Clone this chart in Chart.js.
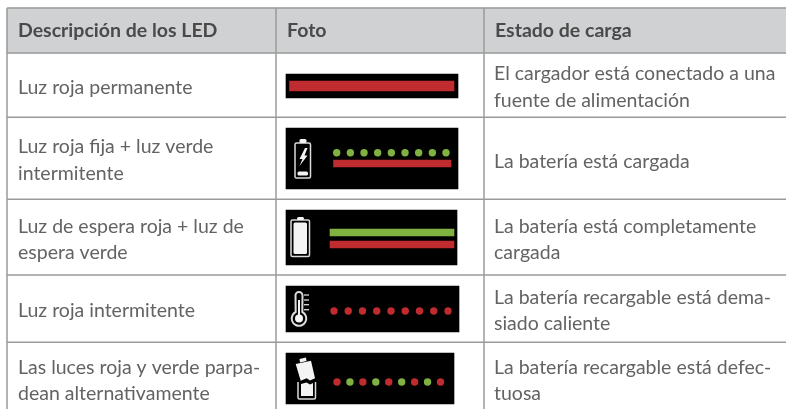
<!DOCTYPE html>
<html lang="es">
<head>
<meta charset="utf-8">
<title>Descripción de los LED</title>
<style>
  html, body { margin: 0; padding: 0; background: #fff; }
  canvas { display: block; }
</style>
</head>
<body>
<canvas id="tabla" width="786" height="409"></canvas>
<script src="https://cdn.jsdelivr.net/npm/chart.js@4/dist/chart.umd.min.js"></script>
<script>
// Textos de la tabla
const encabezados = ['Descripción de los LED', 'Foto', 'Estado de carga'];
const descripcion = [
  ['Luz roja permanente'],
  ['Luz roja fija + luz verde', 'intermitente'],
  ['Luz de espera roja + luz de', 'espera verde'],
  ['Luz roja intermitente'],
  ['Las luces roja y verde parpa-', 'dean alternativamente']
];
const estado = [
  ['El cargador está conectado a una', 'fuente de alimentación'],
  ['La batería está cargada'],
  ['La batería está completamente', 'cargada'],
  ['La batería recargable está dema-', 'siado caliente'],
  ['La batería recargable está defec-', 'tuosa']
];
// Estado de los LED por fila: r/g = punto, R/G = barra continua
const ledsPuntos = ['', 'ggggggggg', '', 'rrrrrrrrr', 'rgrgrgrgr'];
const ledsBarras = ['R', 'R', 'GR', '', ''];
const iconos = [null, 'rayo', 'llena', 'termo', 'rota'];

// Geometria (la escala va en unidades de imagen)
const colX = [7, 276, 484, 786];
const filaY = [8, 53, 117.3, 199.3, 275, 342.3, 409];
const paneles = [
  [286, 458, 74, 98], [286, 458, 128, 189], [286, 457, 210, 265],
  [286, 459, 286, 332], [286, 454, 353, 404]
];
const tiraPuntos = [null, [336.7, 446, 152.7], null, [334, 448, 311], [337, 440.5, 382]];
const tiraBarras = [
  [[289.5, 454, 86, 10]],
  [[333.5, 451, 163.5, 7]],
  [[330, 454, 232.5, 7], [330, 454, 244.5, 7]],
  [], []
];
const lineasDesc = [[88], [147, 174], [227, 253], [311], [368, 394]];
const lineasEstado = [[74, 101], [162], [227, 253], [298, 324], [368, 394]];

const ROJO = '#bf2b2e', VERDE = '#7fb241', NEGRO = '#000', BORDE = '#9a9a9a', TEXTO = '#636363';
const colorLed = c => (c.toLowerCase() === 'r' ? ROJO : VERDE);
const barra = (x0, x1, y, alto, color) => ({
  type: 'bar', data: [{ x: [x0, x1], y: y }], barThickness: alto, backgroundColor: color,
  grouped: false, borderWidth: 0
});
const linea = (a, b) => ({
  type: 'scatter', showLine: true, data: [a, b], borderColor: BORDE, borderWidth: 1.5, pointRadius: 0
});

const datasets = [];
// el primer dataset se pinta encima
ledsPuntos.forEach((p, f) => {
  if (!p) return;
  const [x0, x1, y] = tiraPuntos[f];
  const paso = (x1 - x0) / (p.length - 1);
  datasets.push({
    type: 'scatter',
    data: p.split('').map((c, i) => ({ x: x0 + paso * i, y: y })),
    pointRadius: 3.7, pointBorderWidth: 0,
    pointBackgroundColor: p.split('').map(colorLed)
  });
});
ledsBarras.forEach((b, f) => {
  b.split('').forEach((c, i) => {
    const [x0, x1, y, alto] = tiraBarras[f][i];
    datasets.push(barra(x0, x1, y, alto, colorLed(c)));
  });
});
paneles.forEach(p => datasets.push(barra(p[0], p[1], (p[2] + p[3]) / 2, p[3] - p[2], NEGRO)));
filaY.slice(0, -1).forEach(y => datasets.push(linea({ x: colX[0], y: y }, { x: colX[3], y: y })));
colX.slice(0, -1).forEach(x => datasets.push(linea({ x: x, y: filaY[0] }, { x: x, y: filaY[6] })));
datasets.push(barra(colX[0], colX[3], (filaY[0] + filaY[1]) / 2, filaY[1] - filaY[0], '#d0d1d3'));

// Iconos blancos y textos, posicionados con las escalas
const tablaPlugin = {
  id: 'tablaPlugin',
  afterDatasetsDraw(chart) {
    const ctx = chart.ctx, sx = chart.scales.x, sy = chart.scales.y;
    const px = x => sx.getPixelForValue(x), py = y => sy.getPixelForValue(y);
    const caja = (x0, y0, x1, y1, relleno) => {
      ctx.beginPath();
      ctx.roundRect(px(x0), py(y0), px(x1) - px(x0), py(y1) - py(y0), 1.5);
      if (relleno) ctx.fill(); else ctx.stroke();
    };
    const poligono = puntos => {
      ctx.beginPath();
      puntos.forEach((p, i) => {
        if (i) ctx.lineTo(px(p[0]), py(p[1])); else ctx.moveTo(px(p[0]), py(p[1]));
      });
      ctx.closePath();
      ctx.fill();
    };
    ctx.save();
    ctx.strokeStyle = '#dcdcdc';
    ctx.fillStyle = '#f4f4f4';
    ctx.lineWidth = 1.5;
    iconos.forEach(tipo => {
      if (tipo === 'rayo') {
        caja(295, 143, 310.5, 178);
        caja(299.5, 139, 306.5, 143, true);
        caja(297.5, 171.5, 308, 175.5, true);
        poligono([[305, 148], [299.5, 159], [302.5, 159], [299.5, 166], [307.5, 155.5], [304.5, 155.5], [307.5, 148]]);
      } else if (tipo === 'llena') {
        caja(291, 220, 309.5, 256.5);
        caja(297, 217, 304, 220, true);
        caja(293.5, 222.5, 307, 254, true);
      } else if (tipo === 'termo') {
        ctx.beginPath();
        ctx.lineWidth = 2;
        ctx.arc(px(299), py(318.5), 7.3, -1.1, Math.PI + 1.1);
        ctx.lineTo(px(295.5), py(295.5));
        ctx.arc(px(299), py(295.5), 3.5, Math.PI, 0);
        ctx.closePath();
        ctx.stroke();
        ctx.beginPath();
        ctx.arc(px(299), py(318.5), 4, 0, Math.PI * 2);
        ctx.fill();
        ctx.fillRect(px(298), py(300), 2, 16);
        ctx.lineWidth = 1.3;
        [295, 300, 304.7, 309.7].forEach(y => {
          ctx.beginPath();
          ctx.moveTo(px(304), py(y));
          ctx.lineTo(px(309), py(y));
          ctx.stroke();
        });
      } else if (tipo === 'rota') {
        ctx.lineWidth = 1.5;
        caja(298, 380, 315.5, 399);
        ctx.fillStyle = '#000';
        ctx.fillRect(px(296), py(376), 21, 6);
        ctx.fillStyle = '#f4f4f4';
        poligono([[301, 384], [306.5, 382.5], [310, 384.5], [313, 383], [313, 396], [301, 396]]);
        poligono([[295.7, 364], [311, 360.7], [315, 378.3], [310, 380.5], [306.7, 378.3], [300.7, 380.7]]);
        poligono([[299.5, 359], [306, 357.5], [306.5, 361], [300, 362.5]]);
      }
    });

    ctx.textBaseline = 'middle';
    ctx.textAlign = 'left';
    ctx.font = 'bold 19.5px Lato';
    ctx.fillStyle = '#4a4a4a';
    encabezados.forEach((t, i) => ctx.fillText(t, px(colX[i] + 11), py(31)));
    ctx.font = '19.5px Lato';
    ctx.fillStyle = TEXTO;
    descripcion.forEach((ls, f) => ls.forEach((t, i) => ctx.fillText(t, px(18), py(lineasDesc[f][i]))));
    estado.forEach((ls, f) => ls.forEach((t, i) => ctx.fillText(t, px(494), py(lineasEstado[f][i]))));
    ctx.restore();
  }
};

new Chart(document.getElementById('tabla'), {
  type: 'bar',
  data: { datasets: datasets },
  options: {
    indexAxis: 'y',
    responsive: false,
    animation: false,
    layout: { padding: 0, autoPadding: false },
    scales: {
      x: { type: 'linear', min: 0, max: 786, offset: false, display: false },
      y: { type: 'linear', min: 0, max: 409, offset: false, reverse: true, display: false }
    },
    plugins: { legend: { display: false }, tooltip: { enabled: false } }
  },
  plugins: [tablaPlugin]
});
</script>
</body>
</html>
